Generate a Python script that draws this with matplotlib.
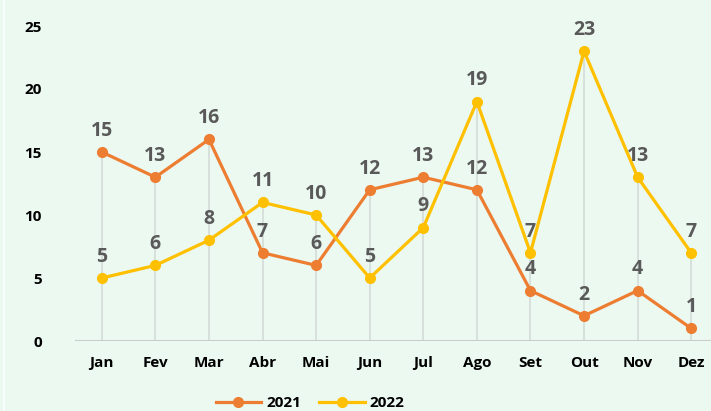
import matplotlib
matplotlib.use("Agg")
import matplotlib.pyplot as plt
from matplotlib.lines import Line2D

months = ["Jan", "Fev", "Mar", "Abr", "Mai", "Jun", "Jul", "Ago", "Set", "Out", "Nov", "Dez"]
v2021 = [15, 13, 16, 7, 6, 12, 13, 12, 4, 2, 4, 1]
v2022 = [5, 6, 8, 11, 10, 5, 9, 19, 7, 23, 13, 7]

plt.rcParams['font.family'] = ['Open Sans', 'DejaVu Sans']
bg = "#EBF9F1"
c21 = "#ED7D31"
c22 = "#FFC000"

fig = plt.figure(figsize=(7.11, 4.11), dpi=100, facecolor=bg)
ax = fig.add_axes([75/711, 70/411, 643/711, 315/411], facecolor=bg)

# faint light edge on the left of the picture
fig.add_artist(Line2D([4/711, 4/711], [0, 1], color="#F7FDFA", lw=1.5))

x = list(range(len(months)))
# drop lines from the higher point down to zero
tops = [max(a, b) for a, b in zip(v2021, v2022)]
ax.vlines(x, 0, tops, color="#D3DCD7", lw=1.2, zorder=0)
ax.axhline(0, color="#C8CCCA", lw=1.5, zorder=1)

ax.plot(x, v2021, color=c21, lw=2.3, marker="o", ms=7, label="2021", zorder=3)
ax.plot(x, v2022, color=c22, lw=2.3, marker="o", ms=7, label="2022", zorder=3)

for xi, v in zip(x, v2021):
    ax.annotate(str(v), (xi, v), xytext=(0, 8), textcoords="offset points",
                ha="center", va="bottom", fontsize=14, fontweight="bold",
                color="#595959", annotation_clip=False)
for xi, v in zip(x, v2022):
    ax.annotate(str(v), (xi, v), xytext=(0, 8), textcoords="offset points",
                ha="center", va="bottom", fontsize=14, fontweight="bold",
                color="#595959", annotation_clip=False)

ax.set_xlim(-0.5, 11.5)
ax.set_ylim(0, 25)
ax.set_yticks([0, 5, 10, 15, 20, 25])
ax.set_xticks(x)
ax.set_xticklabels(months)
for s in ax.spines.values():
    s.set_visible(False)
ax.tick_params(length=0)
ax.tick_params(axis="y", pad=24, labelsize=11)
ax.tick_params(axis="x", pad=11, labelsize=11)
for lab in ax.get_xticklabels() + ax.get_yticklabels():
    lab.set_fontweight("bold")
    lab.set_color("black")

leg = fig.legend(loc="center", bbox_to_anchor=(310/711, 1 - 403/411), ncol=2,
                 frameon=False, prop={"weight": "bold", "size": 11},
                 handlelength=3, columnspacing=1.2, handletextpad=0.3)

fig.savefig("out.png", dpi=100, facecolor=bg)
